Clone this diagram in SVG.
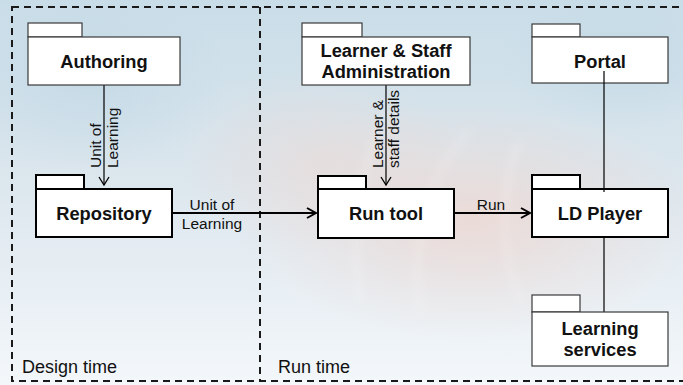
<svg xmlns="http://www.w3.org/2000/svg" width="683" height="385" viewBox="0 0 683 385">
  <defs>
    <linearGradient id="bgBase" x1="0" y1="0" x2="0" y2="1">
      <stop offset="0" stop-color="#c9dde8"/>
      <stop offset="0.45" stop-color="#dbe6ed"/>
      <stop offset="1" stop-color="#f3f7fa"/>
    </linearGradient>
    <radialGradient id="warmHaze" cx="0.5" cy="0.5" r="0.5">
      <stop offset="0" stop-color="#ecd9d4" stop-opacity="0.9"/>
      <stop offset="1" stop-color="#ecd9d4" stop-opacity="0"/>
    </radialGradient>
    <radialGradient id="coolHaze" cx="0.5" cy="0.5" r="0.5">
      <stop offset="0" stop-color="#c3d9e6" stop-opacity="0.8"/>
      <stop offset="1" stop-color="#c3d9e6" stop-opacity="0"/>
    </radialGradient>
    <filter id="soft" x="-50%" y="-50%" width="200%" height="200%">
      <feGaussianBlur stdDeviation="5"/>
    </filter>
    <marker id="openArrow" viewBox="-10 -7 12 14" refX="0" refY="0" markerWidth="12" markerHeight="14" markerUnits="userSpaceOnUse" orient="auto">
      <path d="M-8,-5 L0,0 L-8,5" fill="none" stroke="#000" stroke-width="1.3"/>
    </marker>
    <marker id="openArrowBold" viewBox="-10 -7 12 14" refX="0" refY="0" markerWidth="12" markerHeight="14" markerUnits="userSpaceOnUse" orient="auto">
      <path d="M-9,-5 L0,0 L-9,5" fill="none" stroke="#000" stroke-width="2"/>
    </marker>
  </defs>
  <style>
    .pkg { fill: #ffffff; stroke: #3a3a3a; stroke-width: 1.2; }
    .pkg-main { fill: #ffffff; stroke: #000000; stroke-width: 2; }
    .name { font-family: "Liberation Sans", Arial, sans-serif; font-weight: bold; font-size: 18.3px; fill: #111; text-anchor: middle; }
    .flow { font-family: "Liberation Sans", Arial, sans-serif; font-size: 15.5px; fill: #111; }
    .zone { font-family: "Liberation Sans", Arial, sans-serif; font-size: 18px; fill: #111; }
    .frame { fill: none; stroke: #1a1a1a; stroke-width: 2; stroke-dasharray: 7 5; }
    .wire { fill: none; stroke: #000; stroke-width: 1.2; }
    .wire-bold { fill: none; stroke: #000; stroke-width: 2; }
  </style>

  <!-- soft photographic backdrop -->
  <rect x="0" y="0" width="683" height="385" fill="url(#bgBase)"/>
  <ellipse cx="470" cy="220" rx="230" ry="120" fill="url(#warmHaze)"/>
  <ellipse cx="320" cy="160" rx="140" ry="90" fill="url(#warmHaze)" opacity="0.6"/>
  <ellipse cx="90" cy="80" rx="140" ry="90" fill="url(#coolHaze)"/>
  <ellipse cx="620" cy="60" rx="120" ry="70" fill="url(#coolHaze)"/>
  <g filter="url(#soft)" opacity="0.3" fill="none" stroke="#ffffff" stroke-width="4">
    <path d="M360,300 C350,230 360,160 390,110"/>
    <path d="M420,310 C410,240 430,170 470,130"/>
    <path d="M520,300 C500,250 500,190 520,140"/>
  </g>

  <!-- design time / run time frames -->
  <g id="frames">
    <rect class="frame" x="12" y="7" width="690" height="374"/>
    <line class="frame" x1="260" y1="7" x2="260" y2="381"/>
    <text class="zone" x="22" y="373">Design time</text>
    <text class="zone" x="278" y="373">Run time</text>
  </g>

  <!-- connectors -->
  <g id="connectors">
    <line class="wire" x1="104" y1="85" x2="104" y2="185" marker-end="url(#openArrow)"/>
    <text class="flow" transform="translate(101,168) rotate(-90)">Unit of</text>
    <text class="flow" transform="translate(118,168) rotate(-90)">Learning</text>

    <line class="wire" x1="386" y1="85" x2="386" y2="185" marker-end="url(#openArrow)"/>
    <text class="flow" transform="translate(383,168) rotate(-90)">Learner &amp;</text>
    <text class="flow" transform="translate(399,168) rotate(-90)">staff details</text>

    <line class="wire-bold" x1="172" y1="213" x2="316" y2="213" marker-end="url(#openArrowBold)"/>
    <text class="flow" x="212" y="210" text-anchor="middle">Unit of</text>
    <text class="flow" x="212" y="229" text-anchor="middle">Learning</text>

    <line class="wire-bold" x1="454" y1="213" x2="530" y2="213" marker-end="url(#openArrowBold)"/>
    <text class="flow" x="491" y="210" text-anchor="middle">Run</text>

    <line class="wire" x1="604" y1="237" x2="604" y2="312"/>
  </g>

  <!-- packages -->
  <g id="authoring">
    <rect class="pkg" x="28" y="23" width="54" height="14"/>
    <rect class="pkg" x="28" y="37" width="152" height="48"/>
    <text class="name" x="104" y="68">Authoring</text>
  </g>

  <g id="repository">
    <rect class="pkg-main" x="36" y="175" width="48" height="14"/>
    <rect class="pkg-main" x="36" y="189" width="136" height="48"/>
    <text class="name" x="104" y="220">Repository</text>
  </g>

  <g id="staff-admin">
    <rect class="pkg" x="302" y="23" width="60" height="14"/>
    <rect class="pkg" x="302" y="37" width="168" height="48"/>
    <text class="name" x="386" y="57">Learner &amp; Staff</text>
    <text class="name" x="386" y="78">Administration</text>
  </g>

  <g id="run-tool">
    <rect class="pkg-main" x="318" y="176" width="48" height="13"/>
    <rect class="pkg-main" x="318" y="189" width="136" height="49"/>
    <text class="name" x="386" y="220">Run tool</text>
  </g>

  <g id="portal">
    <rect class="pkg" x="532" y="24" width="48" height="13"/>
    <rect class="pkg" x="532" y="37" width="136" height="46"/>
    <text class="name" x="600" y="68">Portal</text>
  </g>

  <g id="ld-player">
    <rect class="pkg-main" x="532" y="175" width="48" height="14"/>
    <rect class="pkg-main" x="532" y="189" width="136" height="48"/>
    <text class="name" x="600" y="220">LD Player</text>
  </g>

  <g id="learning-services">
    <rect class="pkg" x="532" y="295" width="48" height="17"/>
    <rect class="pkg" x="532" y="312" width="136" height="54"/>
    <text class="name" x="600" y="335">Learning</text>
    <text class="name" x="600" y="356">services</text>
  </g>

  <!-- portal link is drawn across both package bodies -->
  <g id="portal-link">
    <line class="wire" x1="604" y1="71" x2="604" y2="192"/>
  </g>
</svg>
